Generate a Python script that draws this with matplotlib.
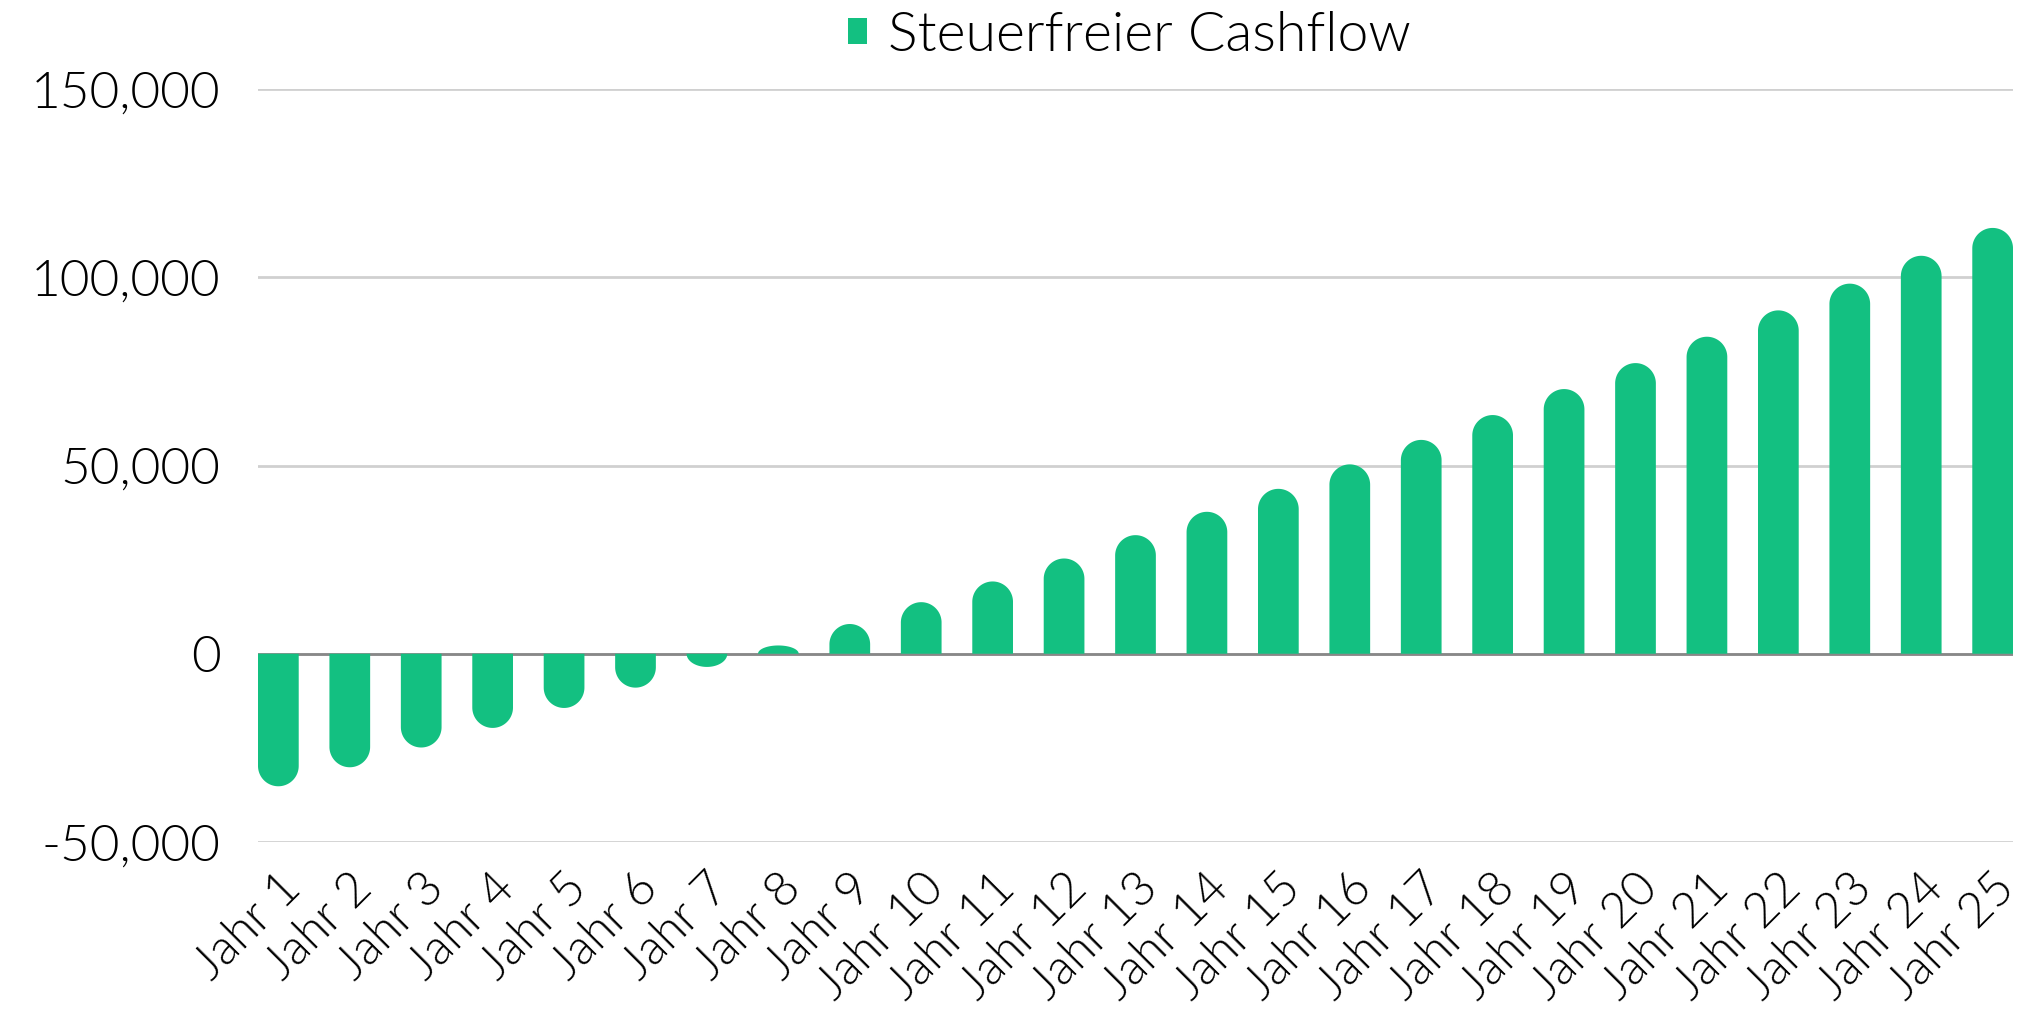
import matplotlib
matplotlib.use("Agg")
import matplotlib.pyplot as plt
import numpy as np
from matplotlib.path import Path
from matplotlib.patches import PathPatch, Patch
from matplotlib.ticker import FuncFormatter, MultipleLocator
import matplotlib.transforms as mtransforms

plt.rcParams['font.family'] = ['Lato', 'DejaVu Sans']
plt.rcParams['font.weight'] = 300

categories = ["Jahr 1", "Jahr 2", "Jahr 3", "Jahr 4", "Jahr 5", "Jahr 6", "Jahr 7",
              "Jahr 8", "Jahr 9", "Jahr 10", "Jahr 11", "Jahr 12", "Jahr 13",
              "Jahr 14", "Jahr 15", "Jahr 16", "Jahr 17", "Jahr 18", "Jahr 19",
              "Jahr 20", "Jahr 21", "Jahr 22", "Jahr 23", "Jahr 24", "Jahr 25"]
cashflow = [-35200, -30150, -24900, -19700, -14400, -9000, -3500, 2200, 7900,
            13700, 19200, 25300, 31500, 37700, 43800, 50300, 56800, 63400,
            70300, 77200, 84200, 91200, 98300, 105700, 113100]
series_name = "Steuerfreier Cashflow"

GREEN = "#13C081"
W_PX, H_PX, DPI = 2020, 1029, 100

fig = plt.figure(figsize=(W_PX / DPI, H_PX / DPI), dpi=DPI)
L, R = 258 / W_PX, 2013 / W_PX
T, B = 1 - 89 / H_PX, 1 - 842 / H_PX
ax = fig.add_axes([L, B, R - L, T - B])

x = np.arange(len(categories))
bw = 0.57
bars = ax.bar(x, cashflow, width=bw, color=GREEN, zorder=3)
ax.set_xlim(-bw / 2, len(categories) - 1 + bw / 2)
ax.set_ylim(-50000, 150000)

# rounded bar ends
px_per_x = (R - L) * W_PX / (ax.get_xlim()[1] - ax.get_xlim()[0])
px_per_y = (T - B) * H_PX / (ax.get_ylim()[1] - ax.get_ylim()[0])
for bar in bars:
    x0 = bar.get_x()
    w = bar.get_width()
    y0 = bar.get_y()
    h = bar.get_height()
    top = y0 + h
    sign = 1 if top >= y0 else -1
    tip, base = top, y0
    rx = w / 2
    r_px = rx * px_per_x
    h_px = abs(h) * px_per_y
    ry = min(r_px, h_px) / px_per_y
    xc = x0 + rx
    t = np.linspace(np.pi, 0, 60)
    arc_x = xc + rx * np.cos(t)
    arc_y = tip - sign * ry + sign * ry * np.sin(t)
    verts = [(x0, base)] + list(zip(arc_x, arc_y)) + [(x0 + w, base), (x0, base)]
    codes = [Path.MOVETO] + [Path.LINETO] * (len(verts) - 2) + [Path.CLOSEPOLY]
    ax.add_patch(PathPatch(Path(verts, codes), facecolor=GREEN, edgecolor='none', zorder=3))
    bar.set_visible(False)

ax.yaxis.set_major_locator(MultipleLocator(50000))
ax.yaxis.set_major_formatter(FuncFormatter(lambda v, p: f"{v:,.0f}"))
ax.yaxis.grid(True, color="#D0D0D0", linewidth=2)
ax.set_axisbelow(True)
ax.axhline(0, color="#888888", linewidth=2, zorder=2)
for s in ax.spines.values():
    s.set_visible(False)
ax.tick_params(axis='y', length=0, pad=27, labelsize=37, labelcolor='black')
ax.tick_params(axis='x', length=0, pad=28, labelsize=35, labelcolor='black')
ax.set_xticks(x)
ax.set_xticklabels(categories, rotation=45, ha='right', va='center', rotation_mode='anchor')
offset = mtransforms.ScaledTranslation(11 / 72, 0, fig.dpi_scale_trans)
for lab in ax.get_xticklabels():
    lab.set_transform(lab.get_transform() + offset)
for lab in ax.get_xticklabels() + ax.get_yticklabels():
    lab.set_fontweight(300)

handle = Patch(facecolor=GREEN, edgecolor='none', label=series_name)
leg = fig.legend(handles=[handle], loc='center', bbox_to_anchor=((L + R) / 2 - 6 / W_PX, 1 - 36 / H_PX),
                 frameon=False, handlelength=0.33, handleheight=0.33,
                 handletextpad=0.38, prop={'size': 40, 'weight': 300})
for txt in leg.get_texts():
    txt.set_color('black')

fig.savefig("out.png", dpi=DPI)
